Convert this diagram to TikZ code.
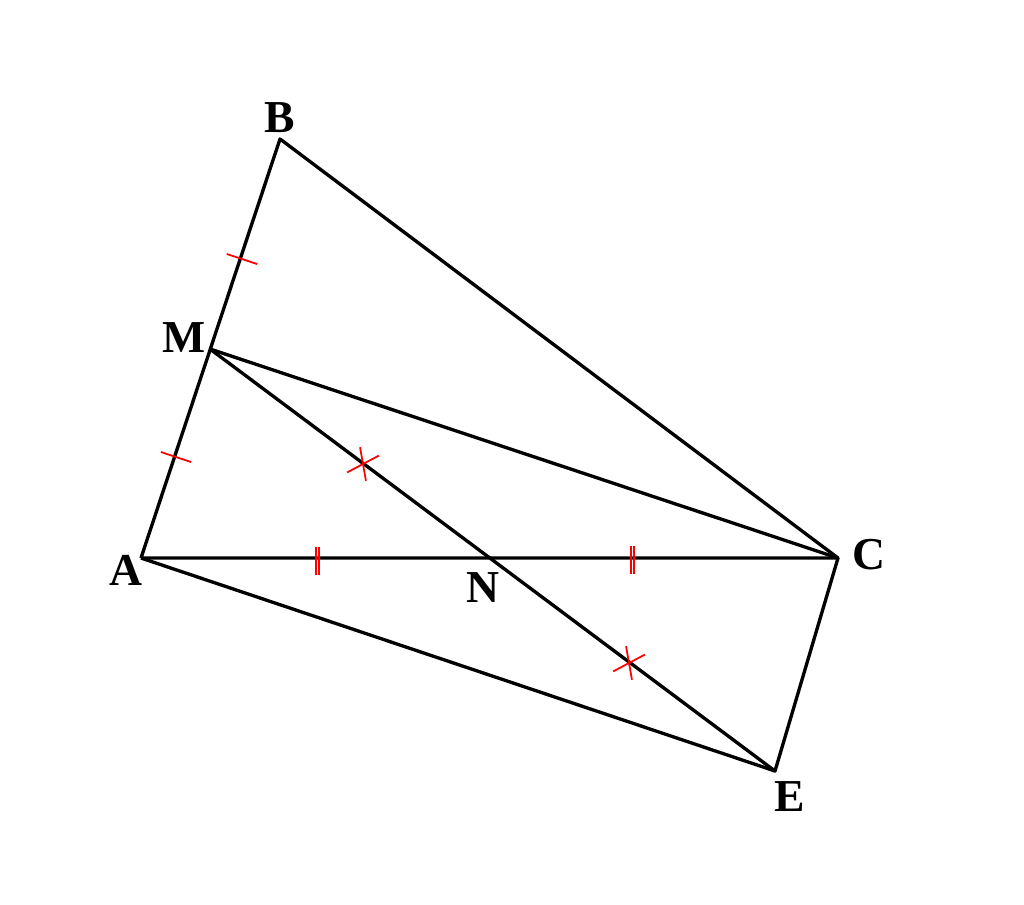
\documentclass[tikz,border=0pt]{standalone}
\usepackage{fontspec}
\setmainfont{Liberation Serif}
\begin{document}
\begin{tikzpicture}[x=0.02cm,y=-0.02cm,
  seg/.style={line width=1.9pt,line join=round},
  tick/.style={red,line width=1pt},
  lbl/.style={font=\fontsize{26}{30}\selectfont\bfseries,inner sep=0pt}]
\useasboundingbox (0,0) rectangle (1024,904);
\coordinate (A) at (141,558);
\coordinate (B) at (280,139);
\coordinate (C) at (838,558);
\coordinate (M) at (210,349);
\coordinate (N) at (489,558);
\coordinate (E) at (775,771);
\draw[seg] (A) -- (B) -- (C) -- (A);
\draw[seg] (M) -- (C);
\draw[seg] (M) -- (E) -- (C);
\draw[seg] (A) -- (E);
% single ticks on AB
\coordinate (t1) at (242,259);
\coordinate (t2) at (176,457);
\draw[tick] (t1) -- ++(18.4:16) (t1) -- ++(198.4:16);
\draw[tick] (t2) -- ++(18.4:16) (t2) -- ++(198.4:16);
% cross marks on ME
\coordinate (x1) at (363,464);
\coordinate (x2) at (629,663);
\foreach \p in {x1,x2}{
  \draw[tick] (\p) -- ++(-100:17) (\p) -- ++(80:17);
  \draw[tick] (\p) -- ++(-28:18) (\p) -- ++(152:18);
}
% double ticks on AC
\coordinate (d1) at (317.5,561);
\coordinate (d2) at (632.5,560);
\foreach \p in {d1,d2}{
  \draw[tick] ([xshift=-1.75*0.02cm]\p) ++(0,-14) -- ++(0,28);
  \draw[tick] ([xshift=1.75*0.02cm]\p) ++(0,-14) -- ++(0,28);
}
\node[lbl] (lB) at (280,118) {B};
\node[lbl] (lM) at (184,338) {M};
\node[lbl] (lA) at (126,570) {A};
\node[lbl] (lN) at (483,588) {N};
\node[lbl] (lC) at (869,555) {C};
\node[lbl] (lE) at (790,797) {E};
\end{tikzpicture}
\end{document}
